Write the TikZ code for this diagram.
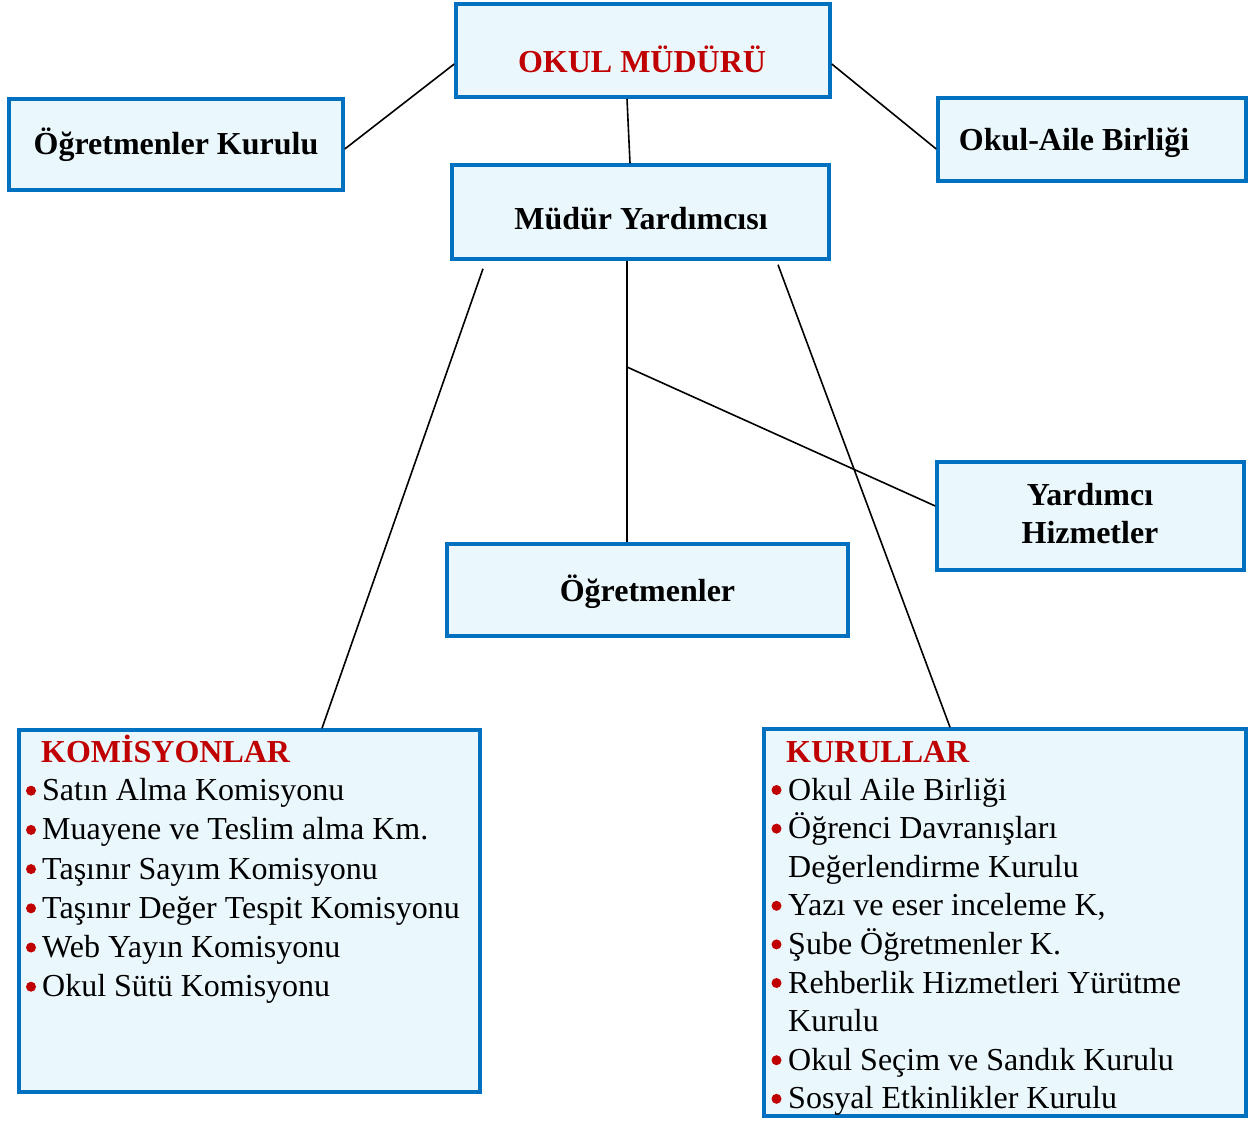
\documentclass[tikz,border=0pt]{standalone}
\usepackage{fontspec}
\setmainfont{Liberation Serif}
\definecolor{boxfill}{HTML}{EAF8FE}
\definecolor{boxline}{HTML}{0070C0}
\definecolor{titlered}{HTML}{C00000}
\begin{document}
\begin{tikzpicture}[x=1pt,y=-1pt,
  box/.style={draw=boxline,fill=boxfill,line width=3.5pt,inner sep=0pt,rectangle},
  ttl/.style={font=\fontsize{32}{39}\selectfont\bfseries,inner sep=0pt,anchor=base},
  rtl/.style={font=\fontsize{32}{39}\selectfont\bfseries,inner sep=0pt,anchor=base west,text=titlered},
  itm/.style={font=\fontsize{32}{39}\selectfont,inner sep=0pt,anchor=base west},
  conn/.style={draw=black,line width=1.6pt},
  bul/.style={fill=titlered}]
\useasboundingbox (0,0) rectangle (1252,1120);
% boxes
\node[box,minimum width=374pt,minimum height=93pt] (okul) at (643,50.5) {};
\node[box,minimum width=334pt,minimum height=91pt] (ogk) at (176,144.5) {};
\node[box,minimum width=308pt,minimum height=83pt] (oab) at (1092,139.5) {};
\node[box,minimum width=377pt,minimum height=94pt] (my) at (640.5,212) {};
\node[box,minimum width=401pt,minimum height=92pt] (ogr) at (647.5,590) {};
\node[box,minimum width=307pt,minimum height=108pt] (yh) at (1090.5,516) {};
\node[box,minimum width=461pt,minimum height=362pt] (kom) at (249.5,911) {};
\node[box,minimum width=482pt,minimum height=387pt] (kur) at (1005,922.5) {};
% connectors
\draw[conn] (okul.west |- 0,64) -- (ogk.east |- 0,149);
\draw[conn] (okul.east |- 0,64) -- (oab.west |- 0,149);
\draw[conn] (okul.south -| 627,0) -- (my.north -| 630,0);
\draw[conn] ([yshift=-8pt]my.south -| 483,0) -- (kom.north -| 322,0);
\draw[conn] (my.south -| 627,0) -- (ogr.north -| 627,0);
\coordinate (br) at (627,367);
\draw[conn] (br) -- (yh.west |- 0,506);
\draw[conn] ([yshift=-4pt]my.south -| 778,0) -- (kur.north -| 950,0);
% titles
\node[ttl,text=titlered] (t1) at (642,72) {OKUL MÜDÜRÜ};
\node[ttl] (t2) at (176,154) {Öğretmenler Kurulu};
\node[ttl] (t3) at (1074,150) {Okul-Aile Birliği};
\node[ttl] (t4) at (641,229) {Müdür Yardımcısı};
\node[ttl] (t5) at (647.5,601) {Öğretmenler};
\node[ttl] (t6) at (1090,505) {Yardımcı};
\node[ttl] (t7) at (1090,543) {Hizmetler};
\node[rtl] (t8) at (41,762) {KOMİSYONLAR};
\node[rtl] (t9) at (786,762) {KURULLAR};
% komisyonlar items
\foreach \t [count=\i from 0] in {Satın Alma Komisyonu,Muayene ve Teslim alma Km.,Taşınır Sayım Komisyonu,Taşınır Değer Tespit Komisyonu,Web Yayın Komisyonu,Okul Sütü Komisyonu}{
  \pgfmathsetmacro{\yy}{800.7+39.2*\i}
  \fill[bul] (31,\yy-10) circle (5pt);
  \node[itm] (k\i) at (42,\yy) {\t};
}
% kurullar items
\foreach \i in {0,1,3,4,5,7,8}{
  \pgfmathsetmacro{\yy}{800+38.6*\i}
  \fill[bul] (776.5,\yy-10) circle (5pt);
}
\node[itm] (r0) at (788,800) {Okul Aile Birliği};
\node[itm] (r1) at (788,838.6) {Öğrenci Davranışları};
\node[itm] (r2) at (788,877.2) {Değerlendirme Kurulu};
\node[itm] (r3) at (788,915.8) {Yazı ve eser inceleme K,};
\node[itm] (r4) at (788,954.4) {Şube Öğretmenler K.};
\node[itm] (r5) at (788,993) {Rehberlik Hizmetleri Yürütme};
\node[itm] (r6) at (788,1031.6) {Kurulu};
\node[itm] (r7) at (788,1070.2) {Okul Seçim ve Sandık Kurulu};
\node[itm] (r8) at (788,1108.8) {Sosyal Etkinlikler Kurulu};
\end{tikzpicture}
\end{document}
